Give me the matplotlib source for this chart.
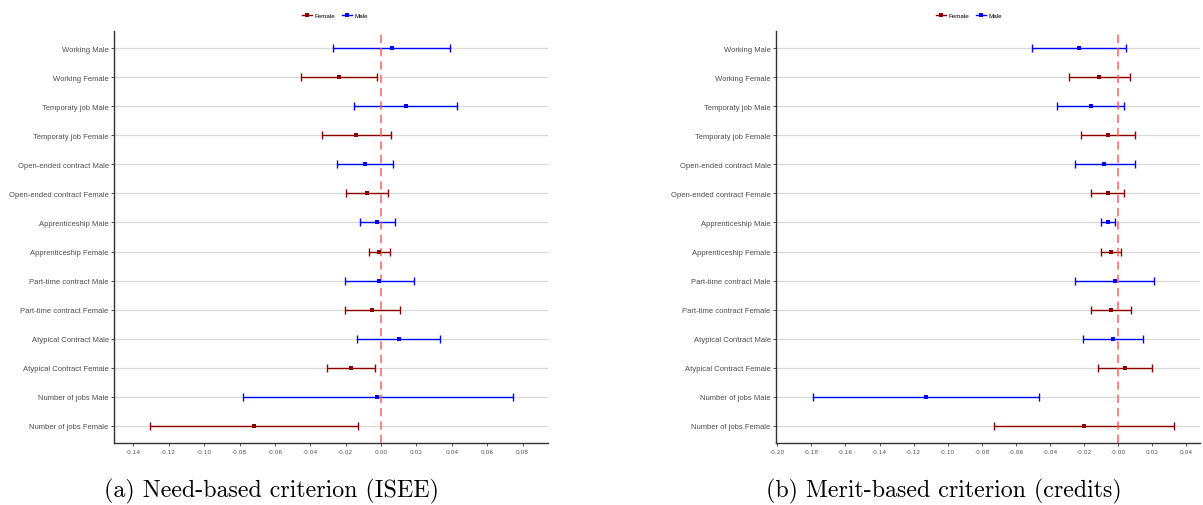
import matplotlib.pyplot as plt
from matplotlib.lines import Line2D
import numpy as np

# row labels, top to bottom
labels = ["Working Male", "Working Female", "Temporaty job Male", "Temporaty job Female",
          "Open-ended contract Male", "Open-ended contract Female",
          "Apprenticeship Male", "Apprenticeship Female",
          "Part-time contract Male", "Part-time contract Female",
          "Atypical Contract Male", "Atypical Contract Female",
          "Number of jobs Male", "Number of jobs Female"]
sex = ["Male", "Female"] * 7

# (a) need-based criterion (ISEE): estimate, lower, upper
isee_est = [0.0060, -0.0239, 0.0139, -0.0140, -0.0090, -0.0081, -0.0021,
            -0.0009, -0.0009, -0.0049, 0.0100, -0.0170, -0.0021, -0.0718]
isee_lo = [-0.0273, -0.0454, -0.0153, -0.0335, -0.0247, -0.0196, -0.0119,
           -0.0068, -0.0204, -0.0205, -0.0134, -0.0305, -0.0782, -0.1304]
isee_hi = [0.0392, -0.0024, 0.0431, 0.0057, 0.0066, 0.0038, 0.0079,
           0.0049, 0.0185, 0.0107, 0.0335, -0.0032, 0.0744, -0.0130]

# (b) merit-based criterion (credits)
cred_est = [-0.0231, -0.0111, -0.0160, -0.0060, -0.0082, -0.0060, -0.0060,
            -0.0041, -0.0021, -0.0041, -0.0031, 0.0039, -0.1128, -0.0199]
cred_lo = [-0.0504, -0.0287, -0.0358, -0.0219, -0.0256, -0.0158, -0.0100,
           -0.0100, -0.0254, -0.0158, -0.0205, -0.0117, -0.1792, -0.0727]
cred_hi = [0.0045, 0.0067, 0.0035, 0.0096, 0.0096, 0.0037, -0.0021,
           0.0018, 0.0213, 0.0076, 0.0145, 0.0196, -0.0463, 0.0328]

colors = {"Female": "#8B0000", "Male": "#0000FF"}

fig = plt.figure(figsize=(12.03, 5.06), dpi=100)
W, H = 1203, 506


def panel(left, right, est, lo, hi, xlim, xticks, leg_x, caption, cap_x):
    ax = fig.add_axes([left / W, 1 - 444 / H, (right - left) / W, (444 - 32) / H])
    n = len(labels)
    y = np.arange(n)[::-1]
    for yy in y:
        ax.axhline(yy, color="#d9d9d9", lw=0.9, zorder=0)
    ax.axvline(0, color="#ff5555", lw=1.2, ls=(0, (5, 3)), alpha=0.85, zorder=3)
    for i in range(n):
        c = colors[sex[i]]
        ax.errorbar(est[i], y[i], xerr=[[est[i] - lo[i]], [hi[i] - est[i]]],
                    fmt="none", ecolor=c, elinewidth=1.0, capsize=3.2, capthick=1.0,
                    zorder=2)
        ax.plot(est[i], y[i], "s", color=c, ms=2.4, mew=0, zorder=4)
    ax.set_xlim(xlim)
    ax.set_ylim(-0.6, n - 0.4)
    ax.set_yticks(y)
    ax.set_yticklabels(labels, fontsize=5.5, color="#4d4d4d", family="Liberation Sans")
    ax.set_xticks(xticks)
    ax.set_xticklabels(["%.2f" % t for t in xticks], fontsize=4.2, color="#555555",
                       family="DejaVu Sans")
    ax.tick_params(axis="both", length=2, width=0.6, color="#333333", pad=2)
    for s in ["top", "right"]:
        ax.spines[s].set_visible(False)
    for s in ["left", "bottom"]:
        ax.spines[s].set_color("#333333")
        ax.spines[s].set_linewidth(1.0)

    handles = [Line2D([], [], color=colors[k], marker="s", ms=2.2, mew=0, lw=1)
               for k in ["Female", "Male"]]
    fig.legend(handles, ["Female", "Male"], loc="center", bbox_to_anchor=(leg_x / W, 1 - 16 / H),
               ncol=2, frameon=False, prop={"family": "Liberation Sans", "size": 4.5},
               handlelength=1.6, handletextpad=0.5, columnspacing=1.0)
    fig.text(cap_x / W, 1 - 491 / H, caption, ha="center", va="center",
             fontsize=17.2, family="cmr10")


panel(114.3, 548, isee_est, isee_lo, isee_hi, (-0.1508, 0.0944),
      np.round(np.arange(-0.14, 0.081, 0.02), 2), 335, "(a) Need-based criterion (ISEE)", 271)
panel(776.3, 1200, cred_est, cred_lo, cred_hi, (-0.2006, 0.048),
      np.round(np.arange(-0.20, 0.041, 0.02), 2), 969, "(b) Merit-based criterion (credits)", 944)

fig.savefig("out.png", dpi=100)
